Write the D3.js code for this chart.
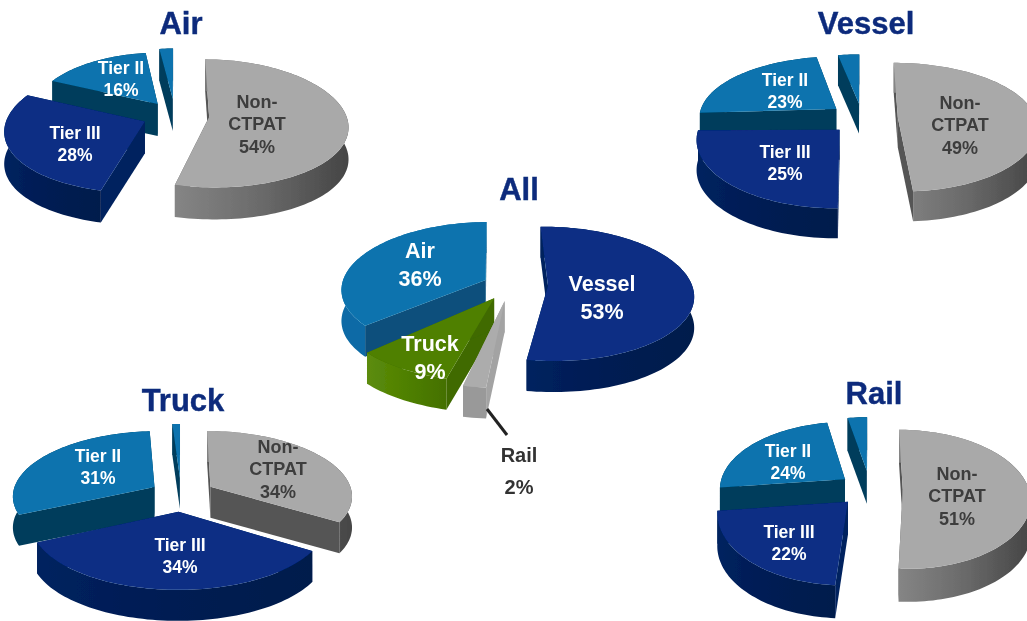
<!DOCTYPE html>
<html><head><meta charset="utf-8">
<script src="https://cdn.jsdelivr.net/npm/d3@7/dist/d3.min.js"></script>
<style>html,body{margin:0;padding:0;background:#fff;overflow:hidden}svg{display:block}
text{font-family:"Liberation Sans",Arial,sans-serif;font-weight:bold;text-anchor:middle}</style>
</head><body><svg id="c" width="1027" height="621"></svg>
<script>
// ---- data ----
const allCategories = ['Vessel','Rail','Truck','Air'];
const allValues     = [53,2,9,36];
const tierCategories = ['Non-CTPAT','Tier III','Tier II','Tier I'];
const airValues    = [54,28,16,2];
const vesselValues = [49,25,23,3];
const truckValues  = [34,34,31,1];
const railValues   = [51,22,24,3];

// ---- styling ----
const palette = {
  gray:  {top:'#a9a9a9', side:'#555555', wall:['#858585','#6a6a6a','#454545']},
  navy:  {top:'#082e84', side:'#04235f', wall:['#03225f','#001b52','#001a4c']},
  blue:  {top:'#0873ae', side:'#033d5c', wall:['#033d5c','#033d5c','#033d5c']},
  sky:   {top:'#0873ae', side:'#0a4f7c', wall:['#0a6ba6','#0a6ba6','#0a5f96']},
  green: {top:'#4f8000', side:'#3f6a00', wall:['#5c8c0c','#4f8000','#447000']},
  rail:  {top:'#acacac', side:'#a3a3a3', wall:['#999999','#999999','#999999']}
};
const tierColors = ['gray','navy','blue','blue'];
const allColors  = ['navy','rail','green','sky'];

// ---- layout: per-slice explode, radius scale and small turn about the slice apex (degrees) ----
const pies = [
 {title:'Air',   tx:181,ty:34, values:airValues, colors:tierColors, cx:175,cy:115,rx:137,ry:63,depth:32,px:.13,py:.1,rot:0,
  explode:[.25,.24,.22,.26],scale:[1,1,.92,.92],turn:[0,0,0,0],
  labels:[[257,108,'Non-','CTPAT','54%'],[75,139,'Tier III','28%'],[121,74,'Tier II','16%']]},
 {title:'Vessel',tx:866,ty:34, values:vesselValues, colors:tierColors, cx:862,cy:118,rx:138,ry:63,depth:30,px:.13,py:.15,rot:0,
  explode:[.26,.24,.24,.24],scale:[1,1,1,.95],turn:[0,3,0,0],
  labels:[[960,109,'Non-','CTPAT','49%'],[785,158,'Tier III','25%'],[785,86,'Tier II','23%']]},
 {title:'Truck', tx:183,ty:411,values:truckValues, colors:tierColors, cx:181,cy:494,rx:142,ry:64,depth:31,px:.13,py:.12,rot:0,
  explode:[.24,.27,.22,.26],scale:[1,1,1,1],turn:[0,0,0,0],
  labels:[[278,453,'Non-','CTPAT','34%'],[98,462,'Tier II','31%'],[180,551,'Tier III','34%']]},
 {title:'Rail',  tx:874,ty:404,values:railValues, colors:tierColors, cx:870,cy:489,rx:126,ry:68,depth:33,px:.13,py:.14,rot:0,
  explode:[.26,.25,.25,.28],scale:[1,1,1,.96],turn:[0,0,0,0],
  labels:[[957,480,'Non-','CTPAT','51%'],[789,538,'Tier III','22%'],[788,457,'Tier II','24%']]},
 {title:'All',   tx:519,ty:200,values:allValues, colors:allColors, cx:512,cy:285,rx:144,ry:66,depth:31,px:.13,py:.12,rot:-2.5,
  explode:[.25,.24,.23,.2],scale:[1,1.08,1.05,1],turn:[1,-3,-1,1.5],size:21.5,
  labels:[[420,258,'Air','36%'],[602,291,'Vessel','53%'],[430,351,'Truck','9%']]}
];
const SIZE = 17.5, GRAY_TEXT = '#3d3d3d';

// ---- draw ----
const svg = d3.select('#c');
const defs = svg.append('defs');
defs.append('filter').attr('id','soft').append('feGaussianBlur').attr('stdDeviation',.45);
Object.entries(palette).forEach(([k,c])=>{
  const g = defs.append('linearGradient').attr('id','wall-'+k);
  c.wall.forEach((col,i)=>g.append('stop').attr('offset',i/2).attr('stop-color',col));
});
const root = svg.append('g').attr('filter','url(#soft)');
const line = d3.line();

pies.forEach(P=>{
  const rot = P.rot*Math.PI/180;
  const angle = d3.pie().sort(null).value(d=>d).startAngle(rot).endAngle(2*Math.PI+rot);
  const sx = d3.scaleLinear().domain([-1,1]).range([P.cx-P.rx,P.cx+P.rx]);
  const sy = d3.scaleLinear().domain([-1,1]).range([P.cy-P.ry,P.cy+P.ry]);
  const proj = (wx,wy,z=0)=>[sx(wx/(1-P.px*wy)), sy(wy/(1-P.py*wy))+z];
  const arcs = angle(P.values).map((a,i)=>{
    const mid=(a.startAngle+a.endAngle)/2, e=P.explode[i];
    return {...a,i,ox:e*Math.sin(mid),oy:-e*Math.cos(mid),v:-Math.cos(mid)};
  }).sort((a,b)=>a.v-b.v);

  const g = root.append('g');
  arcs.forEach(a=>{
    const c = P.colors[a.i], col = palette[c];
    const r = P.scale[a.i], turn = P.turn[a.i]*Math.PI/180;
    const n = Math.max(2,Math.ceil((a.endAngle-a.startAngle)/.03));
    const th = d3.range(n+1).map(k=>a.startAngle+turn+(a.endAngle-a.startAngle)*k/n);
    const rim = z=>th.map(t=>proj(a.ox+r*Math.sin(t),a.oy-r*Math.cos(t),z));
    const apex = z=>proj(a.ox,a.oy,z);
    const top = rim(0), bot = rim(P.depth);
    const s = g.append('g').attr('class','slice');
    [0,n].forEach(k=>{
      s.append('path').attr('d',line([apex(0),top[k],bot[k],apex(P.depth)])+'Z')
        .attr('fill',col.side);
    });
    s.append('path').attr('d',line(top.concat(bot.slice().reverse()))+'Z')
      .attr('fill','url(#wall-'+c+')');
    s.append('path').attr('d',line([apex(0),...top])+'Z').attr('fill',col.top);
  });

  root.append('text').attr('x',P.tx).attr('y',P.ty).attr('font-size',31).attr('fill','#0a2c7c')
    .attr('stroke','#0a2c7c').attr('stroke-width',.4).text(P.title);
  P.labels.forEach(L=>{
    const [x,y,...rows]=L, fs=P.size||SIZE;
    const gray = rows[0]==='Non-';
    const t = root.append('text').attr('x',x).attr('y',y)
      .attr('font-size',gray?18:fs).attr('fill',gray?GRAY_TEXT:'#fff');
    rows.forEach((r,i)=>t.append('tspan').attr('x',x).attr('dy',i?(P.size?27.5:22.3):0).text(r));
  });
});

root.append('line').attr('x1',487).attr('y1',409).attr('x2',507).attr('y2',435).attr('stroke','#222').attr('stroke-width',3);
root.append('text').attr('x',519).attr('y',462).attr('font-size',20).attr('fill','#333').text(allCategories[1]);
root.append('text').attr('x',519).attr('y',494).attr('font-size',20).attr('fill','#333').text(allValues[1]+'%');
</script></body></html>
